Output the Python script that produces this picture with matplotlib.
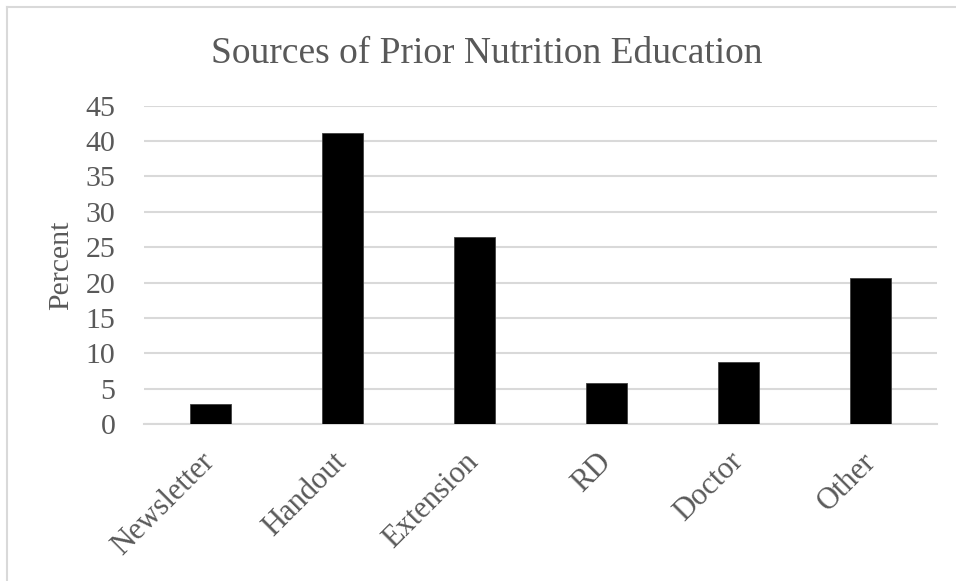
import matplotlib
matplotlib.use("Agg")
import matplotlib.pyplot as plt
from matplotlib.lines import Line2D

# data
zrodla = ["Newsletter", "Handout", "Extension", "RD", "Doctor", "Other"]
procent = [2.8, 41.2, 26.5, 5.8, 8.7, 20.6]
y_ticks = [0, 5, 10, 15, 20, 25, 30, 35, 40, 45]

kolor_tekstu = "#595959"
kolor_siatki = "#d9d9d9"

plt.rcParams["font.family"] = ["Liberation Serif", "DejaVu Serif"]

fig = plt.figure(figsize=(9.56, 5.81), dpi=100)
ax = fig.add_axes([144 / 956, 157 / 581, 793 / 956, 318.3 / 581])

x = list(range(len(zrodla)))
ax.bar(x, procent, width=0.31, color="black", edgecolor="#404040", linewidth=0.6, zorder=3)

ax.set_xlim(-0.5, len(zrodla) - 0.5)
ax.set_ylim(0, 45)
ax.set_yticks(y_ticks)
ax.set_yticklabels([str(v) for v in y_ticks])
ax.yaxis.grid(True, color=kolor_siatki, linewidth=1.5, zorder=0)
ax.set_axisbelow(True)

for s in ["top", "right", "left"]:
    ax.spines[s].set_visible(False)
ax.spines["bottom"].set_color(kolor_siatki)
ax.spines["bottom"].set_linewidth(1.5)

ax.tick_params(axis="y", length=0, pad=20.5, labelsize=21.5, labelcolor=kolor_tekstu)
ax.tick_params(axis="x", length=0, pad=24, labelsize=22, labelcolor=kolor_tekstu)
ax.set_xticks(x)
ax.set_xticklabels(zrodla, rotation=45, ha="right", va="center", rotation_mode="anchor")

ax.set_ylabel("Percent", fontsize=21.5, color=kolor_tekstu, labelpad=8)
fig.text(487 / 956, 1 - 63 / 581, "Sources of Prior Nutrition Education",
         ha="center", va="baseline", fontsize=27, color=kolor_tekstu)

# ramka wykresu (tylko lewa i gorna krawedz widoczna)
fig.add_artist(Line2D([6.5 / 956, 6.5 / 956], [0, 1 - 7 / 581], transform=fig.transFigure,
                      color=kolor_siatki, linewidth=1.5))
fig.add_artist(Line2D([6.5 / 956, 1], [1 - 7 / 581, 1 - 7 / 581], transform=fig.transFigure,
                      color=kolor_siatki, linewidth=1.5))

fig.savefig("out.png", dpi=100)
